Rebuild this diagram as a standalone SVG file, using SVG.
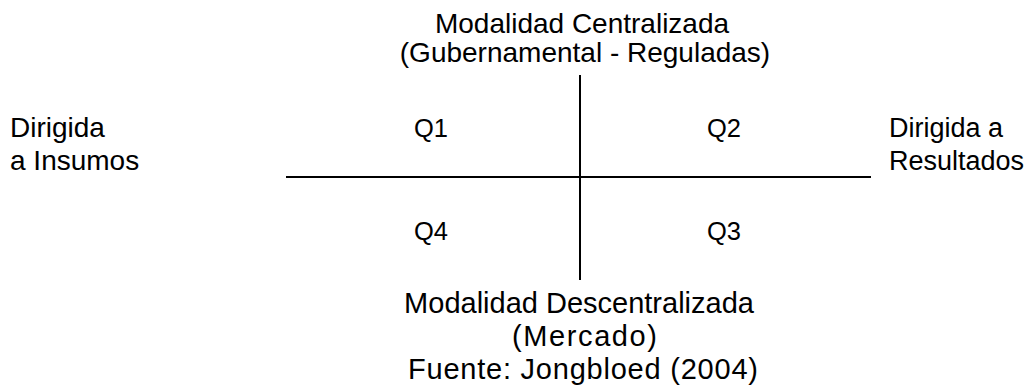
<svg xmlns="http://www.w3.org/2000/svg" width="1036" height="385" viewBox="0 0 1036 385">
<style>
text{font-family:"Liberation Sans",Arial,sans-serif;fill:#000}
.c{text-anchor:middle}
.ax{stroke:#000;stroke-width:2;fill:none}
</style>
<rect width="1036" height="385" fill="#fff"/>
<g id="connectors">
<line class="ax" x1="580" y1="75" x2="580" y2="280"/>
<line class="ax" x1="286" y1="177" x2="871" y2="177"/>
</g>
<g id="top-label">
<text class="c" x="582" y="33" font-size="28">Modalidad Centralizada</text>
<text class="c" x="585" y="62" font-size="28">(Gubernamental - Reguladas)</text>
</g>
<g id="left-label">
<text x="10" y="137" font-size="28">Dirigida</text>
<text x="10" y="170" font-size="28">a Insumos</text>
</g>
<g id="right-label">
<text x="889" y="137" font-size="27">Dirigida a</text>
<text x="889" y="170" font-size="27">Resultados</text>
</g>
<g id="q1"><text x="414" y="137" font-size="25.5">Q1</text></g>
<g id="q2"><text x="707" y="137" font-size="25.5">Q2</text></g>
<g id="q4"><text x="414" y="240" font-size="25.5">Q4</text></g>
<g id="q3"><text x="707" y="240" font-size="25.5">Q3</text></g>
<g id="bottom-label">
<text class="c" x="579" y="313" font-size="29">Modalidad Descentralizada</text>
<text x="512" y="346" font-size="29" textLength="145" lengthAdjust="spacing">(Mercado)</text>
<text x="408" y="379" font-size="29" textLength="350" lengthAdjust="spacing">Fuente: Jongbloed (2004)</text>
</g>
</svg>
